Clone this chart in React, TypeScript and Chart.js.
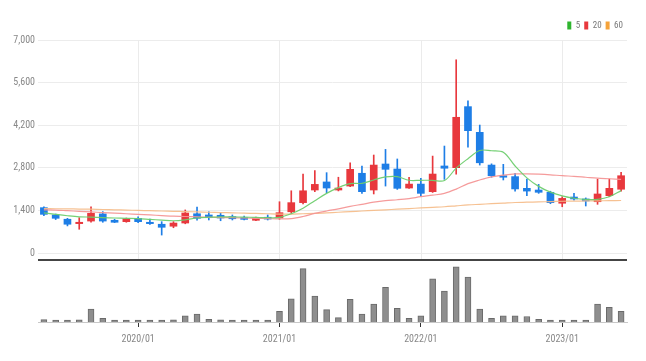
import React, { useEffect, useRef } from 'react';
import { Chart, registerables } from 'chart.js';

Chart.register(...registerables);

// ---- data -------------------------------------------------------------
const months = [
  '2019/05', '2019/06', '2019/07', '2019/08', '2019/09', '2019/10', '2019/11', '2019/12',
  '2020/01', '2020/02', '2020/03', '2020/04', '2020/05', '2020/06', '2020/07', '2020/08',
  '2020/09', '2020/10', '2020/11', '2020/12', '2021/01', '2021/02', '2021/03', '2021/04',
  '2021/05', '2021/06', '2021/07', '2021/08', '2021/09', '2021/10', '2021/11', '2021/12',
  '2022/01', '2022/02', '2022/03', '2022/04', '2022/05', '2022/06', '2022/07', '2022/08',
  '2022/09', '2022/10', '2022/11', '2022/12', '2023/01', '2023/02', '2023/03', '2023/04',
  '2023/05', '2023/06',
];

const openP = [
  1490, 1250, 1110, 965, 1050, 1285, 1075, 1030, 1140, 1010,
  945, 880, 985, 1290, 1250, 1240, 1195, 1160, 1075, 1175,
  1150, 1355, 1655, 2070, 2335, 2070, 2200, 2620, 2070, 2925,
  2760, 2135, 2265, 2015, 2860, 2805, 4810, 3965, 2890, 2540,
  2510, 2125, 2070, 1995, 1635, 1840, 1775, 1685, 1885, 2095,
];
const highP = [
  1520, 1280, 1140, 1160, 1520, 1360, 1110, 1150, 1190, 1115,
  1030, 1030, 1415, 1510, 1355, 1325, 1250, 1210, 1180, 1250,
  1685, 2045, 2595, 2705, 2640, 2490, 2965, 2860, 3220, 3405,
  3090, 2490, 2455, 3185, 3515, 6350, 5005, 4205, 2930, 2915,
  2620, 2430, 2255, 2030, 1850, 1960, 1810, 2430, 2430, 2650,
];
const lowP = [
  1230, 1100, 890, 780, 1010, 1010, 1000, 1010, 1000, 940,
  590, 830, 960, 1075, 1085, 1060, 1085, 1085, 1060, 1085,
  1105, 1305, 1610, 2015, 1980, 2040, 2180, 1960, 1940, 2200,
  2090, 2120, 1850, 1990, 2420, 2590, 3475, 2890, 2490, 2400,
  2035, 1885, 1960, 1620, 1520, 1740, 1545, 1600, 1850, 2035,
];
const closeP = [
  1270, 1140, 945, 1010, 1305, 1050, 1010, 1125, 1030, 965,
  845, 985, 1315, 1140, 1160, 1150, 1125, 1105, 1150, 1115,
  1325, 1655, 2045, 2255, 2135, 2135, 2750, 2015, 2890, 2750,
  2125, 2265, 1960, 2595, 2785, 4460, 4020, 2965, 2540, 2490,
  2105, 2035, 1995, 1655, 1795, 1775, 1710, 1940, 2125, 2540,
];

const ma5 = [
  1320, 1270, 1225, 1190, 1180, 1165, 1150, 1140, 1130, 1105,
  1080, 1060, 1090, 1150, 1175, 1190, 1185, 1180, 1170, 1160,
  1170, 1290, 1470, 1720, 1960, 2150, 2280, 2290, 2400, 2500,
  2510, 2390, 2390, 2390, 2380, 2790, 3100, 3370, 3360, 3310,
  2860, 2470, 2190, 2000, 1880, 1800, 1760, 1765, 1850, 2050,
];
const ma20 = [
  1420, 1410, 1390, 1370, 1350, 1330, 1310, 1290, 1270, 1250,
  1230, 1210, 1200, 1185, 1175, 1165, 1160, 1150, 1140, 1130,
  1120, 1130, 1200, 1300, 1380, 1450, 1530, 1600, 1670, 1720,
  1750, 1790, 1850, 1900, 1960, 2100, 2280, 2400, 2500, 2560,
  2600, 2600, 2590, 2570, 2540, 2520, 2490, 2460, 2440, 2420,
];
const ma60 = [
  1460, 1455, 1450, 1445, 1440, 1430, 1420, 1410, 1400, 1390,
  1380, 1370, 1360, 1350, 1340, 1330, 1320, 1310, 1300, 1290,
  1280, 1280, 1290, 1300, 1320, 1340, 1360, 1380, 1400, 1420,
  1440, 1460, 1480, 1500, 1520, 1550, 1580, 1600, 1620, 1640,
  1660, 1670, 1680, 1690, 1700, 1705, 1710, 1715, 1720, 1725,
];

// volume, in 10k shares
const volume = [
  7, 2, 2, 6, 38, 11, 2, 2, 1, 2,
  2, 6, 18, 23, 8, 6, 2, 2, 2, 2,
  31, 68, 156, 76, 36, 13, 66, 23, 52, 101,
  40, 11, 18, 126, 90, 161, 131, 38, 11, 18,
  18, 16, 8, 2, 2, 2, 2, 52, 43, 31,
];

const priceTicks = [0, 1400, 2800, 4200, 5600, 7000];
const yearTickLabels = ['2020/01', '2021/01', '2022/01', '2023/01'];
const maNames = ['5', '20', '60'];

const UP = '#e8383d';
const DOWN = '#1e7ee6';
const FONT = "'Liberation Sans Narrow', 'Roboto Condensed', Roboto, sans-serif";

export default function App() {
  const ref = useRef<HTMLCanvasElement>(null);

  useEffect(() => {
    if (!ref.current) return;
    const idx = months.map((_, i) => i);
    const yearIdx = yearTickLabels.map((l) => months.indexOf(l));
    const candleColors = idx.map((i) => (closeP[i] >= openP[i] ? UP : DOWN));

    const maLine = ['rgba(110, 205, 110, 0.95)', 'rgba(244, 150, 150, 0.95)', 'rgba(246, 190, 140, 0.95)'];
    const maLegend = ['#2fb52f', '#e8383d', '#f5a33a'];

    const panels = {
      id: 'panels',
      beforeDatasetsDraw(chart: any) {
        const { ctx, chartArea, scales } = chart;
        const yp = scales.yPrice;
        const x = scales.x;
        ctx.save();
        ctx.strokeStyle = '#ebebeb';
        ctx.lineWidth = 1;
        yearIdx.forEach((i) => {
          const px = Math.round(x.getPixelForValue(i)) + 0.5;
          ctx.beginPath();
          ctx.moveTo(px, yp.top);
          ctx.lineTo(px, yp.bottom);
          ctx.stroke();
        });
        ctx.strokeStyle = '#444';
        ctx.lineWidth = 2;
        ctx.beginPath();
        ctx.moveTo(chartArea.left, yp.bottom);
        ctx.lineTo(chartArea.right, yp.bottom);
        ctx.stroke();
        ctx.restore();
      },
    };

    const chart = new Chart(ref.current, {
      type: 'bar',
      data: {
        datasets: [
          {
            type: 'line',
            label: maNames[0],
            data: idx.map((i) => ({ x: i, y: ma5[i] })),
            borderColor: maLine[0],
            backgroundColor: maLegend[0],
            borderWidth: 1.2,
            pointRadius: 0,
            tension: 0.35,
            yAxisID: 'yPrice',
            order: 0,
          },
          {
            type: 'line',
            label: maNames[1],
            data: idx.map((i) => ({ x: i, y: ma20[i] })),
            borderColor: maLine[1],
            backgroundColor: maLegend[1],
            borderWidth: 1.2,
            pointRadius: 0,
            tension: 0.35,
            yAxisID: 'yPrice',
            order: 0,
          },
          {
            type: 'line',
            label: maNames[2],
            data: idx.map((i) => ({ x: i, y: ma60[i] })),
            borderColor: maLine[2],
            backgroundColor: maLegend[2],
            borderWidth: 1.2,
            pointRadius: 0,
            tension: 0.35,
            yAxisID: 'yPrice',
            order: 0,
          },
          {
            type: 'bar',
            label: 'body',
            data: idx.map((i) => ({ x: i, y: [openP[i], closeP[i]] })),
            backgroundColor: candleColors,
            borderWidth: 0,
            barThickness: 7,
            grouped: false,
            yAxisID: 'yPrice',
            order: 1,
          } as any,
          {
            type: 'bar',
            label: 'wick',
            data: idx.map((i) => ({ x: i, y: [lowP[i], highP[i]] })),
            backgroundColor: candleColors,
            borderWidth: 0,
            barThickness: 1,
            grouped: false,
            yAxisID: 'yPrice',
            order: 2,
          } as any,
          {
            type: 'bar',
            label: 'volume',
            data: idx.map((i) => ({ x: i, y: volume[i] })),
            backgroundColor: '#8e8e8e',
            borderColor: '#6a6a6a',
            borderWidth: 1,
            barThickness: 6,
            minBarLength: 2,
            grouped: false,
            yAxisID: 'yVol',
            order: 3,
          } as any,
        ],
      },
      options: {
        animation: false,
        responsive: true,
        maintainAspectRatio: false,
        layout: { padding: { left: 8, right: 19, top: 17, bottom: 10 } },
        plugins: {
          legend: {
            display: true,
            position: 'top',
            align: 'end',
            labels: {
              boxWidth: 4,
              boxHeight: 8,
              padding: 4,
              color: '#777',
              font: { size: 9, family: FONT },
              generateLabels: () =>
                maNames.map((t, k) => ({
                  text: t,
                  fillStyle: maLegend[k],
                  strokeStyle: maLegend[k],
                  lineWidth: 0,
                  hidden: false,
                  datasetIndex: k,
                  fontColor: '#777',
                })),
            },
          },
          tooltip: { enabled: false },
        },
        scales: {
          x: {
            type: 'linear',
            min: -0.5,
            max: months.length - 0.5,
            offset: false,
            afterBuildTicks: (ax: any) => {
              ax.ticks = yearIdx.map((v) => ({ value: v }));
            },
            ticks: {
              autoSkip: false,
              maxRotation: 0,
              color: '#888',
              padding: 6,
              font: { size: 10, family: FONT },
              callback: (v: any) => months[Math.round(Number(v))] ?? '',
            },
            grid: { offset: false, drawOnChartArea: false, drawTicks: true, tickLength: 5, tickColor: '#333' },
            border: { display: true, color: '#c8c8c8' },
          },
          yVol: {
            type: 'linear',
            position: 'left',
            stack: 'panel',
            stackWeight: 62,
            weight: 0,
            min: 0,
            max: 181,
            ticks: { display: false },
            grid: { display: false },
            border: { display: false },
            afterFit: (s: any) => {
              s.width = 30;
            },
          },
          yPrice: {
            type: 'linear',
            position: 'left',
            stack: 'panel',
            stackWeight: 220,
            weight: 1,
            min: -230,
            max: 7000,
            afterBuildTicks: (ax: any) => {
              ax.ticks = priceTicks.map((v) => ({ value: v }));
            },
            ticks: {
              color: '#888',
              padding: 3,
              font: { size: 10, family: FONT },
              callback: (v: any) => Number(v).toLocaleString('en-US'),
            },
            grid: { color: '#ececec', drawTicks: false },
            border: { display: false },
            afterFit: (s: any) => {
              s.width = 30;
            },
          },
        },
      } as any,
      plugins: [panels],
    } as any);

    return () => chart.destroy();
  }, []);

  return (
    <div style={{ position: 'fixed', left: 0, top: 0, width: 646, height: 361, background: '#fff' }}>
      <canvas ref={ref} />
    </div>
  );
}
